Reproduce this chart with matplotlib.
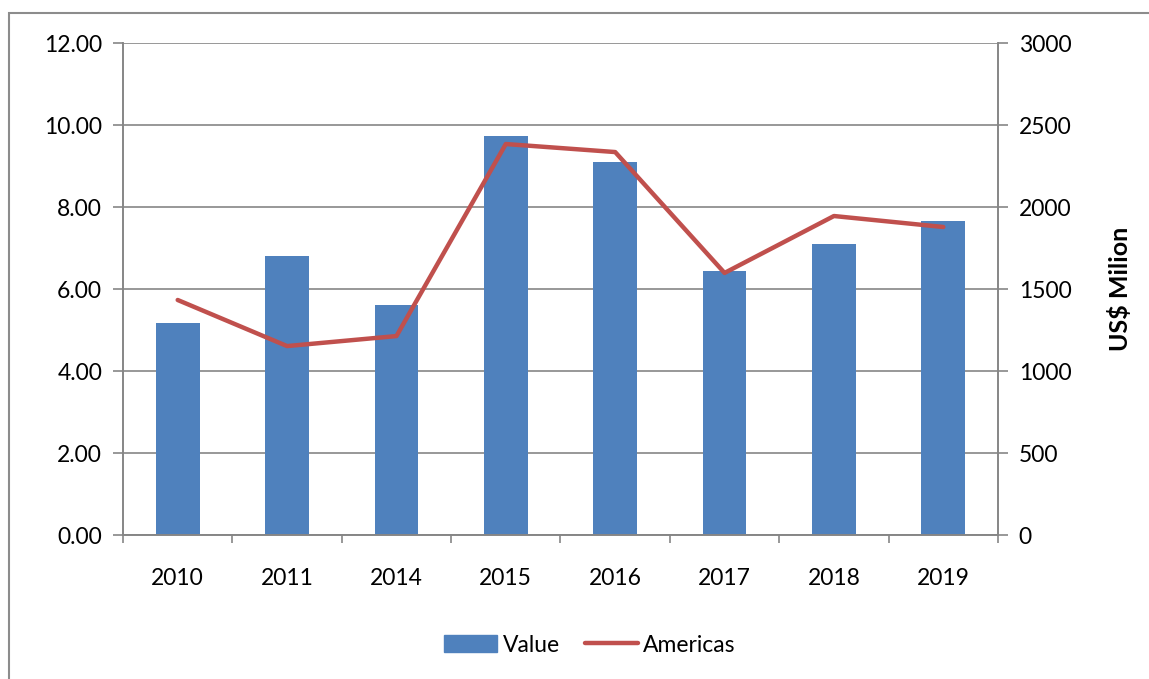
import matplotlib
matplotlib.use("Agg")
import matplotlib.pyplot as plt
from matplotlib.patches import Rectangle
from matplotlib.lines import Line2D

years = ["2010", "2011", "2014", "2015", "2016", "2017", "2018", "2019"]
value = [5.17, 6.80, 5.61, 9.73, 9.10, 6.44, 7.10, 7.66]
americas = [1433, 1152, 1213, 2384, 2335, 1598, 1945, 1878]
left_ticks = [0, 2, 4, 6, 8, 10, 12]
right_ticks = [0, 500, 1000, 1500, 2000, 2500, 3000]

plt.rcParams['font.family'] = ['Lato', 'DejaVu Sans']
W, H = 1149, 679
fig = plt.figure(figsize=(W / 100, H / 100), dpi=100)

# outer frame
fig.patches.append(Rectangle((9 / W, -0.05), 1.2, 1 - 13 / H + 0.05, transform=fig.transFigure,
                             fill=False, edgecolor="#8c8c8c", linewidth=1.5))

FS = 16.5
x0, x1, y0, y1 = 123, 998, 43, 535
ax = fig.add_axes([x0 / W, 1 - y1 / H, (x1 - x0) / W, (y1 - y0) / H])
ax2 = ax.twinx()

grid_c = "#868686"
xs = list(range(len(years)))
ax.bar(xs, value, width=0.4, color="#4F81BD", zorder=2, label="Value")
ax.set_xlim(-0.5, len(years) - 0.5)
ax.set_ylim(0, 12)
ax.set_yticks(left_ticks)
ax.set_yticklabels([f"{t:.2f}" for t in left_ticks])
ax.yaxis.grid(True, color=grid_c, linewidth=1.2, zorder=0)
ax.set_axisbelow(True)
ax.set_xticks(xs)
ax.set_xticklabels(years)
ax.set_xticks([i - 0.5 for i in range(len(years) + 1)], minor=True)
ax.tick_params(axis="x", which="major", length=0, pad=24, labelsize=FS)
ax.tick_params(axis="x", which="minor", length=6, color=grid_c, width=1.2)
ax.tick_params(axis="y", length=7, color=grid_c, width=1.2, labelsize=FS, pad=8)

ax2.plot(xs, americas, color="#C0504D", linewidth=3.2, zorder=3, solid_capstyle="round")
ax2.set_ylim(0, 3000)
ax2.set_yticks(right_ticks)
ax2.tick_params(axis="y", length=7, color=grid_c, width=1.2, labelsize=FS, pad=8)
ax2.set_ylabel("US$ Milion", fontsize=18, fontweight="bold", labelpad=26)

for a in (ax, ax2):
    a.spines["top"].set_visible(False)
    for s in ("left", "right", "bottom"):
        a.spines[s].set_color(grid_c)
        a.spines[s].set_linewidth(1.2)

handles = [Rectangle((0, 0), 1, 1, color="#4F81BD"),
           Line2D([0], [0], color="#C0504D", linewidth=3.2, solid_capstyle="round")]
fig.legend(handles, ["Value", "Americas"], loc="center", bbox_to_anchor=(590 / W, 1 - 645 / H),
           ncol=2, frameon=False, fontsize=FS, handlelength=2.3, handletextpad=0.25, columnspacing=1.1)

fig.savefig("out.png", dpi=100, facecolor="white")
